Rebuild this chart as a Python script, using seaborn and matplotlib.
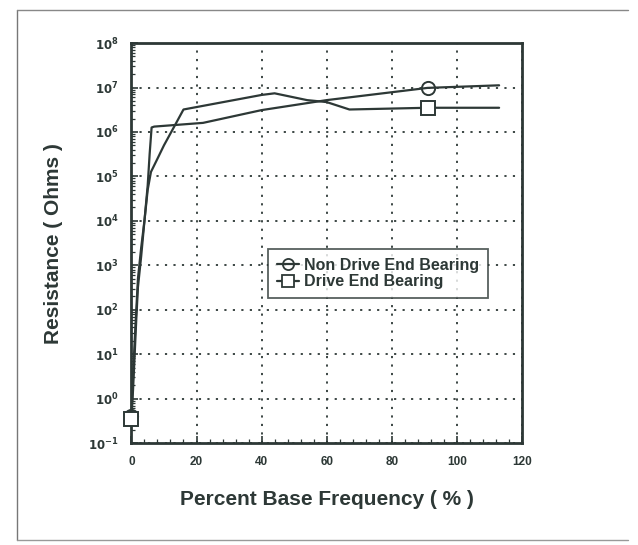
import matplotlib
matplotlib.use("Agg")
import matplotlib.pyplot as plt
import matplotlib.ticker as mticker
from matplotlib.lines import Line2D
import seaborn as sns
import pandas as pd

# Bearing resistance versus percent of base frequency
nde_freq = [0, 0.5, 1, 1.5, 2, 3, 4, 5, 5.6, 6.2, 7, 22, 40, 60, 91, 113]
nde_ohms = [0.4, 3.2, 20, 100, 500, 2.5e3, 1e4, 6.3e4, 3.2e5, 1.26e6, 1.32e6,
            1.6e6, 3.1e6, 5.2e6, 9.8e6, 1.12e7]

de_freq = [0, 0.5, 1, 1.5, 2, 3, 4, 5, 6, 8, 10, 13, 16, 40, 44, 54, 60, 67, 91, 113]
de_ohms = [0.35, 1.6, 10, 63, 320, 1.6e3, 1e4, 5e4, 1.26e5, 2.5e5, 5e5, 1.26e6,
           3.2e6, 6.8e6, 7.4e6, 5.2e6, 4.7e6, 3.2e6, 3.5e6, 3.5e6]

series_names = ["Non Drive End Bearing", "Drive End Bearing"]
x_ticks = [0, 20, 40, 60, 80, 100, 120]
y_exponents = list(range(-1, 9))

ink = "#2d3836"

sns.set_theme(style="white")
plt.rcParams["font.family"] = ["Liberation Sans", "DejaVu Sans"]
plt.rcParams["font.weight"] = "bold"

fig = plt.figure(figsize=(6.38, 5.45), dpi=100)
ax = fig.add_axes([0.206, 0.187, 0.612, 0.734])

nde = pd.DataFrame({"freq": nde_freq, "ohms": nde_ohms})
de = pd.DataFrame({"freq": de_freq, "ohms": de_ohms})

sns.lineplot(data=nde, x="freq", y="ohms", ax=ax, color=ink, lw=1.6,
             marker="o", markersize=9.5, markerfacecolor="none",
             markeredgecolor=ink, markeredgewidth=1.4,
             markevery=[0, nde_freq.index(91)], label=series_names[0],
             sort=False, estimator=None, clip_on=False, zorder=4)
sns.lineplot(data=de, x="freq", y="ohms", ax=ax, color=ink, lw=1.6,
             marker="s", markersize=10.5, markerfacecolor="white",
             markeredgecolor=ink, markeredgewidth=1.4,
             markevery=[0, de_freq.index(91)], label=series_names[1],
             sort=False, estimator=None, clip_on=False, zorder=4)

ax.set_yscale("log")
ax.set_xlim(0, 120)
ax.set_ylim(10.0 ** y_exponents[0], 10.0 ** y_exponents[-1])

ax.set_xticks(x_ticks)
ax.set_xticklabels([str(t) for t in x_ticks])
ax.xaxis.set_minor_locator(mticker.MultipleLocator(4))
ax.set_yticks([10.0 ** e for e in y_exponents])
ax.set_yticklabels([r"$\mathbf{10^{%d}}$" % e for e in y_exponents])
ax.yaxis.set_minor_locator(mticker.LogLocator(base=10, subs=range(2, 10), numticks=20))
ax.yaxis.set_minor_formatter(mticker.NullFormatter())

ax.tick_params(axis="both", which="major", direction="in", length=5, width=1.2,
               color=ink, labelsize=8.5, labelcolor=ink, pad=9)
ax.tick_params(axis="both", which="minor", direction="in", length=3, width=0.9,
               color=ink)
ax.tick_params(axis="y", which="both", left=True, right=False)
ax.tick_params(axis="x", which="both", bottom=True, top=False)

ax.grid(True, which="major", linestyle=(0, (1.2, 3.5)), color=ink, lw=1.3)
for s in ax.spines.values():
    s.set_color(ink)
    s.set_linewidth(2.0)

ax.set_xlabel("Percent Base Frequency ( % )", fontsize=15, color=ink,
              fontweight="bold", labelpad=16)
ax.set_ylabel("Resistance ( Ohms )", fontsize=15, color=ink,
              fontweight="bold", labelpad=18)

handles = [
    Line2D([], [], color=ink, lw=1.6, marker="o", markersize=8,
           markerfacecolor="none", markeredgecolor=ink, markeredgewidth=1.3),
    Line2D([], [], color=ink, lw=1.6, marker="s", markersize=8,
           markerfacecolor="white", markeredgecolor=ink, markeredgewidth=1.3),
]
leg = ax.legend(handles, series_names, loc="upper left",
                bbox_to_anchor=(0.35, 0.485), frameon=True, fancybox=False,
                handlelength=1.4, handletextpad=0.3, borderpad=0.55,
                borderaxespad=0.0, labelspacing=0.1,
                prop={"size": 11.5, "weight": "bold"})
leg.get_frame().set_edgecolor(ink)
leg.get_frame().set_linewidth(1.3)
for t in leg.get_texts():
    t.set_color(ink)
leg.set_zorder(5)

# thin page border
fig.add_artist(Line2D([0.027, 0.027], [0.01, 0.982], color="#777777", lw=1.0))
fig.add_artist(Line2D([0.027, 0.985], [0.982, 0.982], color="#888888", lw=1.0))
fig.add_artist(Line2D([0.027, 0.985], [0.01, 0.01], color="#999999", lw=1.0))

fig.savefig("out.png", dpi=100, facecolor="white")
